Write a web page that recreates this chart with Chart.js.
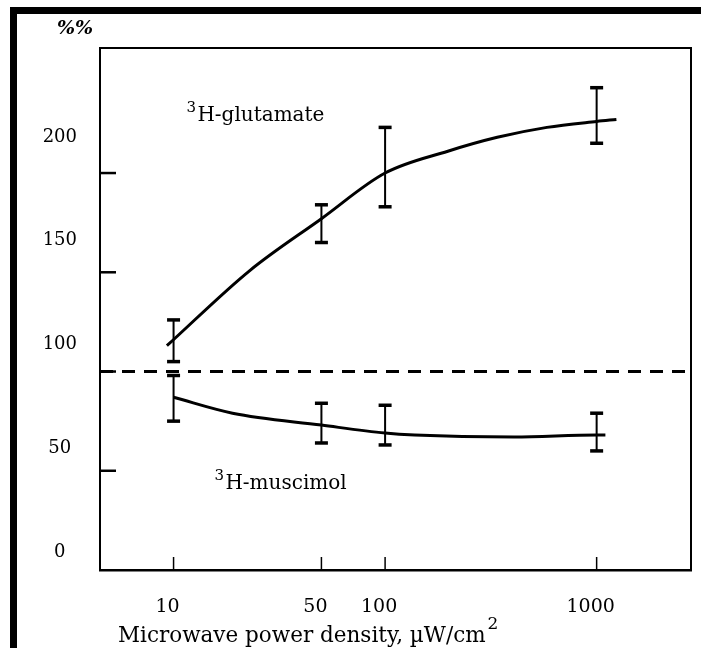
<!DOCTYPE html>
<html>
<head>
<meta charset="utf-8">
<script src="https://cdn.jsdelivr.net/npm/chart.js@4.4.0/dist/chart.umd.min.js"></script>
<style>
  html, body { margin: 0; padding: 0; background: #fff; }
  #wrap { position: relative; width: 701px; height: 648px; overflow: hidden; }
  #frame { position: absolute; left: 10px; top: 7px; width: 720px; height: 700px;
           border-top: 7px solid #000; border-left: 7px solid #000; pointer-events: none; }
</style>
</head>
<body>
<div id="wrap">
  <canvas id="c" width="701" height="648"></canvas>
  <div id="frame"></div>
</div>
<script>
// doses (µW/cm2) onde há barras de erro
const doses = [10, 50, 100, 1000];

// barras de erro (% do controle)
const glutLow  = [105, 165, 183, 215];
const glutHigh = [126, 184, 223, 243];
const muscLow  = [75, 64, 63, 60];
const muscHigh = [98, 84, 83, 79];

// curvas ajustadas (pontos lidos ao longo do traço)
const glutCurveX = [9.3, 23, 50, 100, 198, 339, 582, 1000, 1240];
const glutCurveY = [113, 151, 177, 200, 211, 218, 223, 226, 227];
const muscCurveX = [10, 19, 50, 100, 138, 407, 1000, 1100];
const muscCurveY = [87, 79, 73, 69, 68, 67, 68, 68];

// nível do controle (linha tracejada)
const controlLevel = 100;

// eixos
const xTicks = [10, 50, 100, 1000];
const xRange = [4.49, 2793];
const yRange = [0, 263];
const yTickMarks = [50, 100, 150, 200];
const yLabels = [0, 50, 100, 150, 200];
const yLabelRange = [-8.67, 242.9];

// rótulos das curvas [dose, %]
const glutLabelPos = [11.5, 226];
const muscLabelPos = [15.6, 41];

const FONT = 'DejaVu Serif';

// monta pares x/y
function pares(xs, ys) {
  return xs.map((x, i) => ({ x: x, y: ys[i] }));
}

// barras verticais separadas por lacunas
function barras(lo, hi) {
  const pts = [];
  doses.forEach((d, i) => {
    pts.push({ x: d, y: lo[i] });
    pts.push({ x: d, y: hi[i] });
    pts.push({ x: d, y: null });
  });
  return pts;
}

function estiloBarra(data) {
  return {
    data: data,
    showLine: true,
    spanGaps: false,
    borderColor: '#000',
    borderWidth: 2,
    pointStyle: 'line',
    pointRadius: 6.5,
    pointBorderWidth: 3.5,
    pointBorderColor: '#000',
    pointHoverRadius: 6.5
  };
}

function estiloCurva(data) {
  return {
    data: data,
    showLine: true,
    borderColor: '#000',
    borderWidth: 3,
    pointRadius: 0,
    cubicInterpolationMode: 'monotone'
  };
}

// moldura, marcas internas dos eixos e textos
const decor = {
  id: 'decor',
  beforeDraw(chart) {
    const ctx = chart.ctx;
    ctx.save();
    ctx.fillStyle = '#fff';
    ctx.fillRect(0, 0, chart.width, chart.height);
    ctx.restore();
  },
  afterDraw(chart) {
    const { ctx, chartArea: a, scales } = chart;
    const xs = scales.x, ys = scales.y;
    ctx.save();
    ctx.strokeStyle = '#000';
    ctx.fillStyle = '#000';

    // topo e lado direito do quadro
    ctx.lineWidth = 2;
    ctx.beginPath();
    ctx.moveTo(a.left, a.top);
    ctx.lineTo(a.right, a.top);
    ctx.lineTo(a.right, a.bottom);
    ctx.stroke();

    // marcas do eixo y (para dentro)
    ctx.lineWidth = 2.5;
    yTickMarks.forEach(v => {
      const py = ys.getPixelForValue(v);
      ctx.beginPath();
      ctx.moveTo(a.left, py);
      ctx.lineTo(a.left + 16, py);
      ctx.stroke();
    });

    // marcas do eixo x (para dentro)
    ctx.lineWidth = 1.5;
    xTicks.forEach(v => {
      const px = xs.getPixelForValue(v);
      ctx.beginPath();
      ctx.moveTo(px, a.bottom);
      ctx.lineTo(px, a.bottom - 13);
      ctx.stroke();
    });

    // rótulos das curvas
    const rotulo = (pos, texto) => {
      const px = xs.getPixelForValue(pos[0]);
      const py = ys.getPixelForValue(pos[1]);
      ctx.textAlign = 'left';
      ctx.textBaseline = 'alphabetic';
      ctx.font = '15px ' + FONT;
      ctx.fillText('3', px, py - 9);
      ctx.font = '20px ' + FONT;
      ctx.fillText(texto, px + 11, py);
    };
    rotulo(glutLabelPos, 'H-glutamate');
    rotulo(muscLabelPos, 'H-muscimol');

    // "%%" no canto
    ctx.font = 'italic bold 19px ' + FONT;
    ctx.textAlign = 'center';
    ctx.textBaseline = 'middle';
    ctx.fillText('%%', a.left - 25, a.top - 19);

    // título do eixo x
    ctx.font = '21.5px ' + FONT;
    ctx.textAlign = 'left';
    ctx.textBaseline = 'alphabetic';
    const titulo = 'Microwave power density, \u00b5W/cm';
    const tx = a.left + 18, ty = a.bottom + 72;
    ctx.fillText(titulo, tx, ty);
    const w = ctx.measureText(titulo).width;
    ctx.font = '17px ' + FONT;
    ctx.fillText('2', tx + w + 2, ty - 13);
    ctx.restore();
  }
};

new Chart(document.getElementById('c'), {
  type: 'scatter',
  data: {
    datasets: [
      estiloCurva(pares(glutCurveX, glutCurveY)),
      estiloCurva(pares(muscCurveX, muscCurveY)),
      estiloBarra(barras(glutLow, glutHigh)),
      estiloBarra(barras(muscLow, muscHigh)),
      {
        data: pares(xRange, [controlLevel, controlLevel]),
        showLine: true,
        borderColor: '#000',
        borderWidth: 3,
        borderDash: [13, 9],
        pointRadius: 0
      }
    ]
  },
  options: {
    responsive: false,
    animation: false,
    events: [],
    layout: { padding: { top: 48, right: 6, left: 0, bottom: 0 } },
    plugins: { legend: { display: false }, tooltip: { enabled: false } },
    scales: {
      x: {
        type: 'logarithmic',
        position: 'bottom',
        min: xRange[0],
        max: xRange[1],
        afterBuildTicks: s => { s.ticks = xTicks.map(v => ({ value: v })); },
        afterFit: s => { s.height = 78; },
        grid: { display: false, drawTicks: false },
        border: { display: true, color: '#000', width: 2.5 },
        ticks: {
          color: '#000',
          font: { family: FONT, size: 19 },
          padding: 26,
          labelOffset: -6,
          maxRotation: 0,
          autoSkip: false,
          callback: v => String(v)
        }
      },
      y: { display: false, min: yRange[0], max: yRange[1] },
      yl: {
        axis: 'y',
        position: 'left',
        min: yLabelRange[0],
        max: yLabelRange[1],
        afterBuildTicks: s => { s.ticks = yLabels.map(v => ({ value: v })); },
        afterFit: s => { s.width = 100; },
        grid: { display: false, drawTicks: false },
        border: { display: true, color: '#000', width: 2 },
        ticks: {
          color: '#000',
          font: { family: FONT, size: 18 },
          crossAlign: 'center',
          padding: 23,
          callback: v => String(v)
        }
      }
    }
  },
  plugins: [decor]
});
</script>
</body>
</html>
